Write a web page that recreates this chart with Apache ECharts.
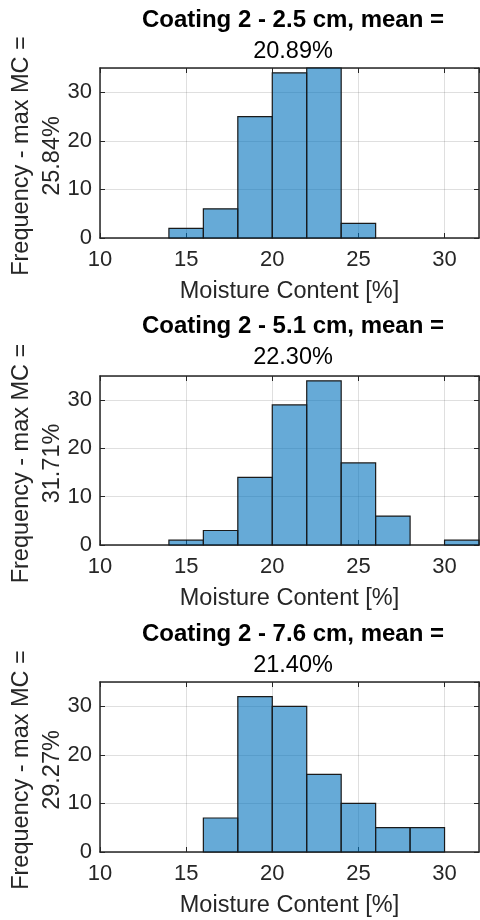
<!DOCTYPE html>
<html>
<head>
<meta charset="utf-8">
<script src="https://cdn.jsdelivr.net/npm/echarts@6/dist/echarts.min.js"></script>
</head>
<body style="margin:0;background:#fff">
<div id="main" style="width:480px;height:920px;"></div>
<script type="text/javascript">
// histogram bins (edges) and counts, one pair per panel
var binEdges1 = [14, 16, 18, 20, 22, 24, 26];
var counts1 = [2, 6, 25, 34, 35, 3];
var binEdges2 = [14, 16, 18, 20, 22, 24, 26, 28, 30, 32];
var counts2 = [1, 3, 14, 29, 34, 17, 6, 0, 1];
var binEdges3 = [16, 18, 20, 22, 24, 26, 28, 30];
var counts3 = [7, 32, 30, 16, 10, 5, 5];

var titles = ['Coating 2 - 2.5 cm, mean =', 'Coating 2 - 5.1 cm, mean =', 'Coating 2 - 7.6 cm, mean ='];
var means = ['20.89%', '22.30%', '21.40%'];
var maxMC = ['25.84%', '31.71%', '29.27%'];
var xLabel = 'Moisture Content [%]';
var yLabel = 'Frequency - max MC =';

var xMin = 10, xMax = 32, xStep = 5;
var yMin = 0, yMax = 35, yStep = 10;

var edges = [binEdges1, binEdges2, binEdges3];
var counts = [counts1, counts2, counts3];

// layout (px)
var gridTops = [68, 376, 682];
var gridH = [170, 169, 170];
var titleTops = [3, 309, 617];

var font = '"Liberation Sans", Arial, Helvetica, sans-serif';
var axisColor = '#262626';

var chart = echarts.init(document.getElementById('main'));

var grid = [], xAxis = [], yAxis = [], series = [], title = [];

for (var i = 0; i < 3; i++) {
	grid.push({left: 100, right: 1, top: gridTops[i], height: gridH[i], containLabel: false, outerBoundsMode: 'none'});

	title.push({
		text: titles[i],
		subtext: means[i],
		left: 288,
		top: titleTops[i],
		textAlign: 'center',
		itemGap: 8,
		textStyle: {fontFamily: font, fontSize: 24, fontWeight: 'bold', color: '#000', lineHeight: 24},
		subtextStyle: {fontFamily: font, fontSize: 23.5, color: '#000', lineHeight: 24}
	});

	xAxis.push({
		gridIndex: i, type: 'value', min: xMin, max: xMax, interval: xStep,
		position: 'bottom',
		axisLine: {show: true, onZero: false, lineStyle: {color: axisColor, width: 1.5}},
		axisTick: {show: true, inside: true, length: 5, lineStyle: {color: axisColor, width: 1}},
		axisLabel: {fontFamily: font, fontSize: 22, color: axisColor, margin: 11, showMaxLabel: false},
		splitLine: {show: true, lineStyle: {color: 'rgba(38,38,38,0.15)', width: 1}},
		name: xLabel, nameLocation: 'middle', nameGap: 42, nameMoveOverlap: false,
		nameTextStyle: {fontFamily: font, fontSize: 23.5, color: axisColor}
	});
	xAxis.push({
		gridIndex: i, type: 'value', min: xMin, max: xMax, interval: xStep,
		position: 'top',
		axisLine: {show: true, onZero: false, lineStyle: {color: axisColor, width: 1.5}},
		axisTick: {show: true, inside: true, length: 5, lineStyle: {color: axisColor, width: 1}},
		axisLabel: {show: false},
		splitLine: {show: false}
	});

	yAxis.push({
		gridIndex: i, type: 'value', min: yMin, max: yMax, interval: yStep,
		position: 'left',
		axisLine: {show: true, onZero: false, lineStyle: {color: axisColor, width: 1.5}},
		axisTick: {show: true, inside: true, length: 5, lineStyle: {color: axisColor, width: 1}},
		axisLabel: {fontFamily: font, fontSize: 22, color: axisColor, margin: 8, showMaxLabel: false},
		splitLine: {show: true, lineStyle: {color: 'rgba(38,38,38,0.15)', width: 1}},
		name: yLabel + '\n' + maxMC[i], nameLocation: 'middle', nameRotate: 90, nameGap: 32, nameMoveOverlap: false,
		nameTextStyle: {fontFamily: font, fontSize: 23.5, color: axisColor, lineHeight: 31, padding: [0, 6, 0, 0]}
	});
	yAxis.push({
		gridIndex: i, type: 'value', min: yMin, max: yMax, interval: yStep,
		position: 'right',
		axisLine: {show: true, onZero: false, lineStyle: {color: axisColor, width: 1.5}},
		axisTick: {show: true, inside: true, length: 5, lineStyle: {color: axisColor, width: 1}},
		axisLabel: {show: false},
		splitLine: {show: false}
	});

	var data = [];
	for (var j = 0; j < counts[i].length; j++) {
		data.push([edges[i][j], edges[i][j + 1], counts[i][j]]);
	}

	series.push({
		type: 'custom',
		xAxisIndex: i * 2,
		yAxisIndex: i * 2,
		data: data,
		encode: {x: [0, 1], y: 2},
		renderItem: function (params, api) {
			var c = api.value(2);
			if (!c) return;
			var p0 = api.coord([api.value(0), c]);
			var p1 = api.coord([api.value(1), 0]);
			return {
				type: 'rect',
				shape: {x: p0[0], y: p0[1], width: p1[0] - p0[0], height: p1[1] - p0[1]},
				style: {fill: 'rgba(0,114,189,0.6)', stroke: '#1a1a1a', lineWidth: 1.2}
			};
		}
	});
}

chart.setOption({
	animation: false,
	title: title,
	grid: grid,
	xAxis: xAxis,
	yAxis: yAxis,
	series: series
});
</script>
</body>
</html>
